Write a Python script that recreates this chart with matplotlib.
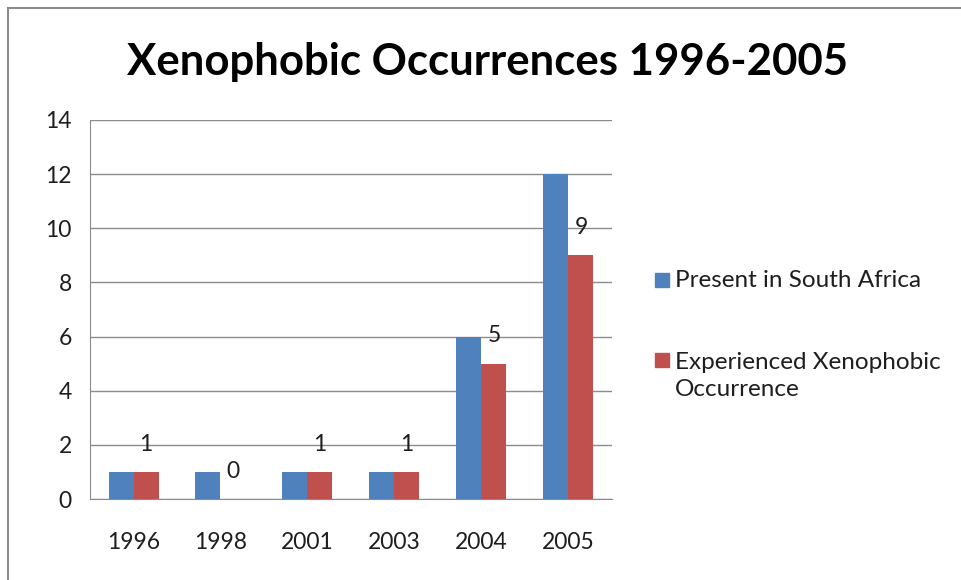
import matplotlib.pyplot as plt
import numpy as np
from matplotlib.patches import Rectangle

plt.rcParams['font.family'] = ['Lato', 'DejaVu Sans']

# Data
years = ['1996', '1998', '2001', '2003', '2004', '2005']
present = [1, 1, 1, 1, 6, 12]
experienced = [1, 0, 1, 1, 5, 9]
series_names = ['Present in South Africa', 'Experienced Xenophobic\nOccurrence']

blue = '#4F81BD'
red = '#C0504D'
grid_col = '#8C8C8C'
txt_col = '#1E1E1E'

W, H = 962, 580
fig = plt.figure(figsize=(W / 100, H / 100), dpi=100)

def fx(px):
    return px / W

def fy(py):
    return 1 - py / H

# outer chart frame (right / bottom edges are cropped in the original)
fig.patches.append(Rectangle((fx(8), -0.1), 1.2, fy(8) + 0.1,
                             transform=fig.transFigure, fill=False,
                             edgecolor='#8C8C8C', linewidth=1.5))

ax = fig.add_axes([fx(90), fy(499), 522 / W, 379 / H])

x = np.arange(len(years))
w = 25 / 87
ax.bar(x - w / 2, present, width=w, color=blue, zorder=3)
bars2 = ax.bar(x + w / 2, experienced, width=w, color=red, zorder=3)

# data labels for the second series only
for rect, v in zip(bars2, experienced):
    ax.annotate(str(v), (rect.get_x() + rect.get_width() / 2, v),
                xytext=(0, 20), textcoords='offset points',
                ha='center', va='center', fontsize=16.5, color=txt_col)

ax.set_xlim(-0.5, len(years) - 0.5)
ax.set_ylim(0, 14)
ax.set_yticks(range(0, 15, 2))
ax.set_xticks(x)
ax.set_xticklabels(years)
ax.tick_params(axis='both', length=0, labelsize=16.5, colors=txt_col)
ax.tick_params(axis='y', pad=13)
ax.tick_params(axis='x', pad=24)
ax.yaxis.grid(True, color=grid_col, linewidth=1)
ax.set_axisbelow(True)
for s in ['top', 'right']:
    ax.spines[s].set_visible(False)
for s in ['left', 'bottom']:
    ax.spines[s].set_color(grid_col)

fig.text(fx(488), fy(62), 'Xenophobic Occurrences 1996-2005',
         ha='center', va='center', fontsize=31.5, fontweight='bold', color='black')

# legend, drawn by hand so the marker sits on the first line of the wrapped label
for name, col, ymark, ytext in [(series_names[0], blue, 280, 280),
                                (series_names[1], red, 360, 376)]:
    fig.patches.append(Rectangle((fx(655), fy(ymark + 7)), 14 / W, 14 / H,
                                 transform=fig.transFigure, color=col))
    fig.text(fx(675), fy(ytext), name, ha='left', va='center',
             fontsize=17.5, color=txt_col, linespacing=1.35)

fig.savefig('out.png', dpi=100)
